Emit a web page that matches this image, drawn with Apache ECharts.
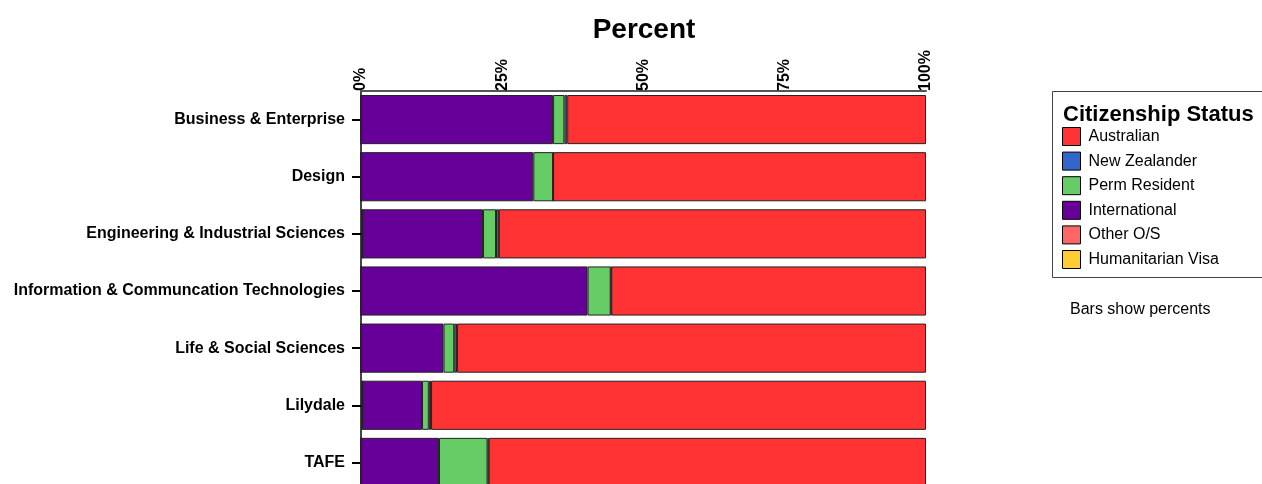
<!DOCTYPE html>
<html><head><meta charset="utf-8">
<script src="https://cdn.jsdelivr.net/npm/echarts@6/dist/echarts.min.js"></script>
<style>html,body{margin:0;padding:0;background:#fff;overflow:hidden;height:484px}#c{width:1262px;height:492px}</style>
</head><body><div id="c"></div>
<script>
const categories = ["Business & Enterprise","Design","Engineering & Industrial Sciences","Information & Communcation Technologies","Life & Social Sciences","Lilydale","TAFE"];
const humanitarian = [0, 0, 0.3, 0, 0, 0.3, 0];
const otherOS = [0, 0, 0, 0, 0, 0, 0];
const international = [34.0, 30.5, 21.3, 40.1, 14.6, 10.5, 13.8];
const permResident = [2.0, 3.5, 2.3, 4.1, 1.9, 1.2, 8.6];
const newZealander = [0.5, 0, 0.5, 0.1, 0.5, 0.4, 0.2];
const australian = [63.5, 66.0, 75.6, 55.7, 83.0, 87.6, 77.4];
const xTicks = [0, 25, 50, 75, 100];
const legendOrder = ["Australian","New Zealander","Perm Resident","International","Other O/S","Humanitarian Visa"];
const colors = {"Australian":"#FF3333","New Zealander":"#3366CC","Perm Resident":"#66CC66","International":"#660099","Other O/S":"#FF6666","Humanitarian Visa":"#FFCC33"};

const stackSeries = [
  ["Humanitarian Visa", humanitarian],
  ["Other O/S", otherOS],
  ["International", international],
  ["Perm Resident", permResident],
  ["New Zealander", newZealander],
  ["Australian", australian]
];

const chart = echarts.init(document.getElementById('c'), null, {renderer:'canvas'});
chart.setOption({
  animation: false,
  title: {
    text: 'Percent', left: 639, top: 11, textAlign: 'center',
    textStyle: {fontFamily: 'Liberation Sans', fontSize: 28, fontWeight: 'bold', color: '#000'}
  },
  grid: {left: 361, right: 336, top: 91, height: 400, containLabel: false},
  xAxis: {
    type: 'value', position: 'top', min: 0, max: 100, interval: 25,
    axisLine: {show: true, lineStyle: {color: '#555', width: 2}},
    axisTick: {show: false},
    splitLine: {show: false},
    axisLabel: {
      formatter: v => xTicks.includes(v) ? v + '%' : '',
      rotate: -90, margin: 0,
      fontFamily: 'Liberation Sans', fontSize: 16, fontWeight: 'bold', color: '#000'
    }
  },
  yAxis: {
    type: 'category', data: categories, inverse: true,
    axisLine: {show: true, lineStyle: {color: '#444', width: 2}},
    axisTick: {show: true, alignWithLabel: true, length: 9, lineStyle: {color: '#000', width: 2}},
    axisLabel: {margin: 16, fontFamily: 'Liberation Sans', fontSize: 16, fontWeight: 'bold', color: '#000'}
  },
  legend: {
    orient: 'vertical', left: 1062, top: 127, padding: 0, itemWidth: 18, itemHeight: 18, itemGap: 5.6,
    icon: 'rect', data: legendOrder, selectedMode: false,
    itemStyle: {borderColor: '#000', borderWidth: 1},
    textStyle: {fontFamily: 'Liberation Sans', fontSize: 16, color: '#000', padding: [0,0,0,3]}
  },
  graphic: [
    {type: 'rect', shape: {x: 1052.5, y: 91.5, width: 220, height: 186}, style: {fill: 'none', stroke: '#444', lineWidth: 1}},
    {type: 'text', left: 1063, top: 104, style: {text: 'Citizenship Status', font: 'bold 22px "Liberation Sans"', fill: '#000'}},
    {type: 'text', left: 1070, top: 302, style: {text: 'Bars show percents', font: '16px "Liberation Sans"', fill: '#000'}}
  ],
  series: stackSeries.map(([name, vals]) => ({
    name, type: 'bar', stack: 'total', data: vals, barCategoryGap: '14%',
    itemStyle: {color: colors[name], borderColor: '#222', borderWidth: 1}
  }))
});
</script></body></html>
